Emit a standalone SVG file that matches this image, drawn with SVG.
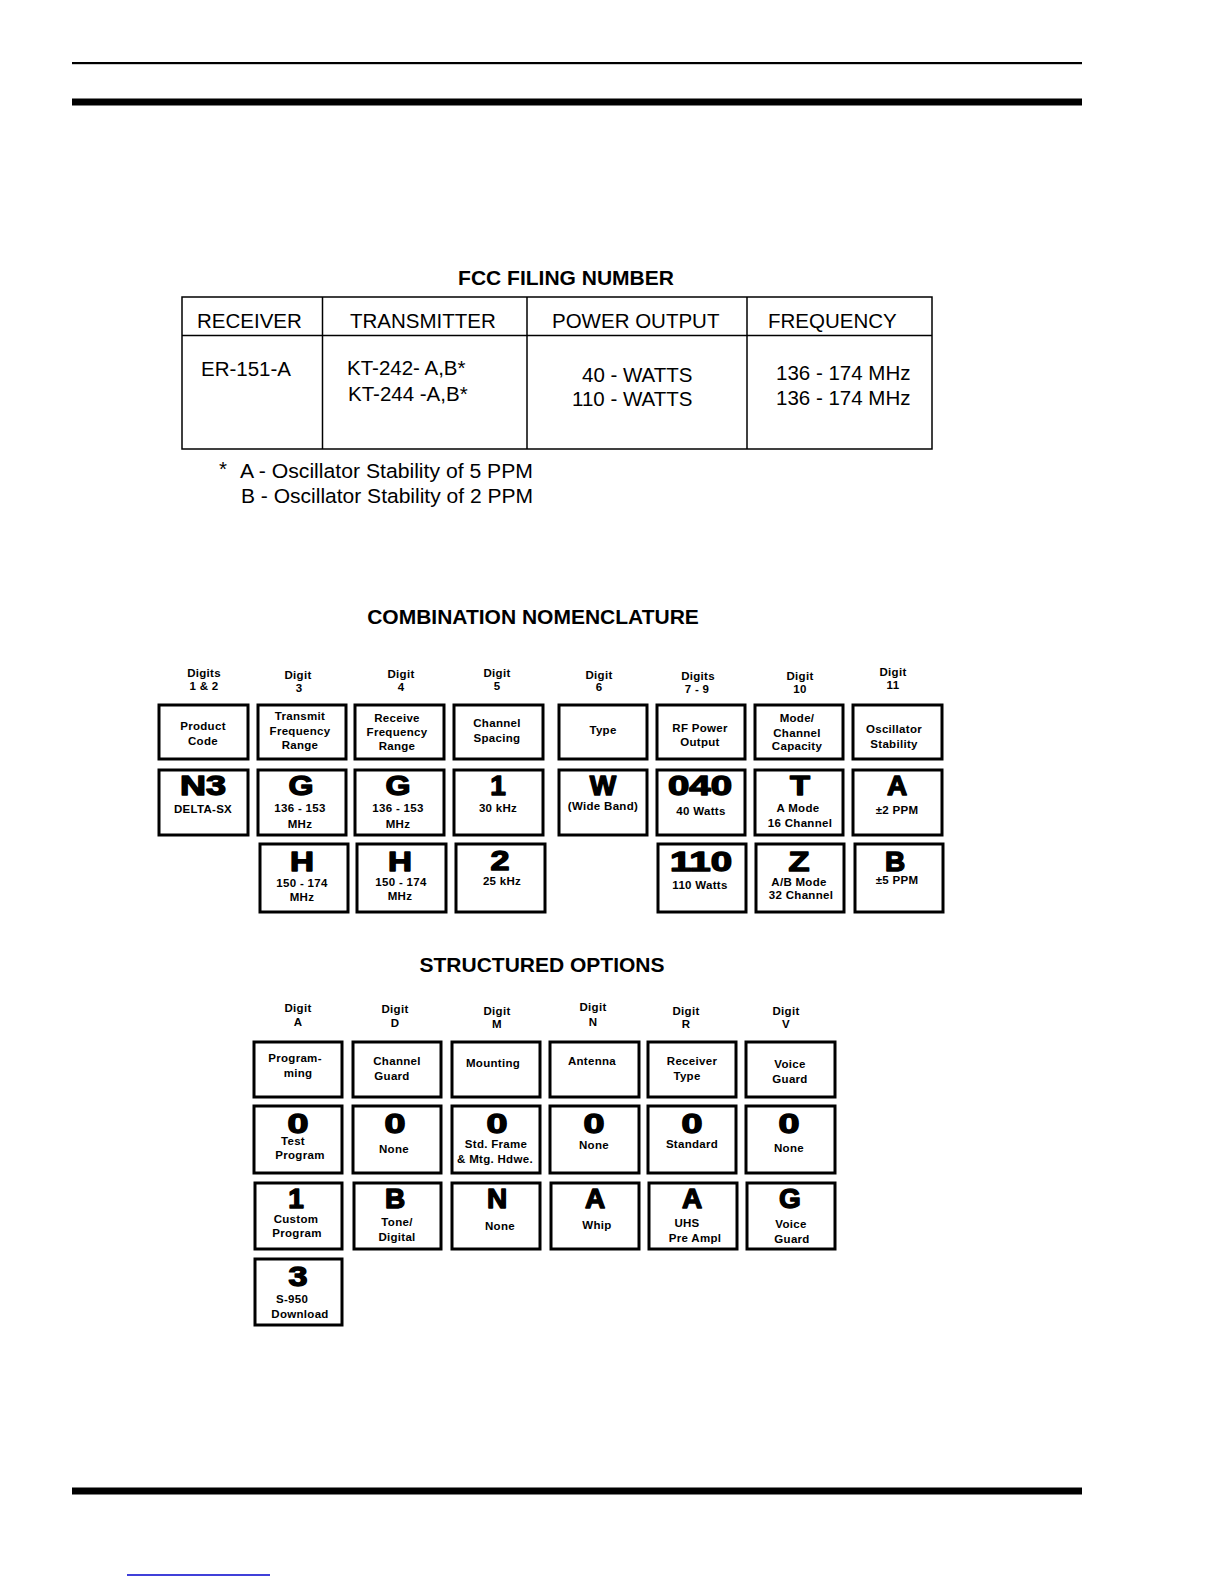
<svg xmlns="http://www.w3.org/2000/svg" width="1225" height="1585" viewBox="0 0 1225 1585">
<style>
.r{font-family:"Liberation Sans",Arial,sans-serif;font-size:20.5px;fill:#000}
.h{font-family:"Liberation Sans",Arial,sans-serif;font-size:21px;font-weight:bold;fill:#000;text-anchor:middle}
.l{font-family:"Liberation Sans",Arial,sans-serif;font-size:11.5px;font-weight:bold;letter-spacing:0.3px;text-anchor:middle;fill:#000}
.b{font-family:"Liberation Sans",Arial,sans-serif;font-size:28px;font-weight:bold;text-anchor:middle;fill:#000;stroke:#000;stroke-width:1.4;stroke-linejoin:round}
.bx{fill:#fff;stroke:#000;stroke-width:3}
.tl{fill:none;stroke:#000;stroke-width:1.5}
</style>
<rect width="1225" height="1585" fill="#fff"/>
<g id="rules">
<rect x="72" y="62" width="1010" height="2.2" fill="#000"/>
<rect x="72" y="98.5" width="1010" height="7" fill="#000"/>
<rect x="72" y="1487.5" width="1010" height="7" fill="#000"/>
<line x1="127" y1="1575" x2="270" y2="1575" stroke="#0000cc" stroke-width="1.5"/>
</g>
<g id="connectors"/>
<g id="fcc-table">
<text class="h" x="566" y="285">FCC FILING NUMBER</text>
<rect class="tl" x="182" y="297" width="750" height="152"/>
<line class="tl" x1="182" y1="335.5" x2="932" y2="335.5"/>
<line class="tl" x1="322.5" y1="297" x2="322.5" y2="449"/>
<line class="tl" x1="527" y1="297" x2="527" y2="449"/>
<line class="tl" x1="747" y1="297" x2="747" y2="449"/>
<text class="r" x="197" y="328">RECEIVER</text>
<text class="r" x="350" y="328">TRANSMITTER</text>
<text class="r" x="552" y="328">POWER OUTPUT</text>
<text class="r" x="768" y="328">FREQUENCY</text>
<text class="r" x="201" y="376">ER-151-A</text>
<text class="r" x="347" y="375">KT-242- A,B*</text>
<text class="r" x="348" y="401">KT-244 -A,B*</text>
<text class="r" x="582" y="382">40 - WATTS</text>
<text class="r" x="572" y="406">110 - WATTS</text>
<text class="r" x="776" y="380">136 - 174 MHz</text>
<text class="r" x="776" y="405">136 - 174 MHz</text>
<text class="r" x="219" y="476">*</text>
<text class="r" x="240" y="478" textLength="293" lengthAdjust="spacingAndGlyphs">A - Oscillator Stability of 5 PPM</text>
<text class="r" x="241" y="503" textLength="292" lengthAdjust="spacingAndGlyphs">B - Oscillator Stability of 2 PPM</text>
</g>
<g id="combination-title"><text class="h" x="533" y="624">COMBINATION NOMENCLATURE</text></g>
<g id="c1">
<text class="l" x="204" y="677">Digits</text><text class="l" x="204" y="690">1 &amp; 2</text>
<rect class="bx" x="159" y="705" width="89" height="54"/>
<text class="l" x="203" y="730">Product</text><text class="l" x="203" y="745">Code</text>
<rect class="bx" x="159" y="770" width="89" height="65"/>
<text class="b" x="203" y="795" textLength="46" lengthAdjust="spacingAndGlyphs">N3</text>
<text class="l" x="203" y="813">DELTA-SX</text>
</g>
<g id="c2">
<text class="l" x="298" y="679">Digit</text><text class="l" x="299" y="692">3</text>
<rect class="bx" x="258" y="705" width="88" height="54"/>
<text class="l" x="300" y="720">Transmit</text><text class="l" x="300" y="735">Frequency</text><text class="l" x="300" y="749">Range</text>
<rect class="bx" x="258" y="770" width="88" height="65"/>
<text class="b" x="301" y="795" textLength="25" lengthAdjust="spacingAndGlyphs">G</text>
<text class="l" x="300" y="812">136 - 153</text><text class="l" x="300" y="828">MHz</text>
<rect class="bx" x="260" y="844" width="88" height="68"/>
<text class="b" x="302" y="871" textLength="24" lengthAdjust="spacingAndGlyphs">H</text>
<text class="l" x="302" y="887">150 - 174</text><text class="l" x="302" y="901">MHz</text>
</g>
<g id="c3">
<text class="l" x="401" y="678">Digit</text><text class="l" x="401" y="691">4</text>
<rect class="bx" x="355" y="705" width="89" height="54"/>
<text class="l" x="397" y="722">Receive</text><text class="l" x="397" y="736">Frequency</text><text class="l" x="397" y="750">Range</text>
<rect class="bx" x="355" y="770" width="89" height="65"/>
<text class="b" x="398" y="795" textLength="25" lengthAdjust="spacingAndGlyphs">G</text>
<text class="l" x="398" y="812">136 - 153</text><text class="l" x="398" y="828">MHz</text>
<rect class="bx" x="357" y="844" width="89" height="68"/>
<text class="b" x="400" y="871" textLength="24" lengthAdjust="spacingAndGlyphs">H</text>
<text class="l" x="401" y="886">150 - 174</text><text class="l" x="400" y="900">MHz</text>
</g>
<g id="c4">
<text class="l" x="497" y="677">Digit</text><text class="l" x="497" y="690">5</text>
<rect class="bx" x="454" y="705" width="89" height="54"/>
<text class="l" x="497" y="727">Channel</text><text class="l" x="497" y="742">Spacing</text>
<rect class="bx" x="454" y="770" width="89" height="65"/>
<text class="b" x="498" y="795">1</text>
<text class="l" x="498" y="812">30 kHz</text>
<rect class="bx" x="456" y="844" width="89" height="68"/>
<text class="b" x="500" y="870" textLength="19" lengthAdjust="spacingAndGlyphs">2</text>
<text class="l" x="502" y="885">25 kHz</text>
</g>
<g id="c5">
<text class="l" x="599" y="679">Digit</text><text class="l" x="599" y="691">6</text>
<rect class="bx" x="559" y="705" width="88" height="54"/>
<text class="l" x="603" y="734">Type</text>
<rect class="bx" x="559" y="770" width="88" height="65"/>
<text class="b" x="603" y="795">W</text>
<text class="l" x="603" y="810">(Wide Band)</text>
</g>
<g id="c6">
<text class="l" x="698" y="680">Digits</text><text class="l" x="697" y="693">7 - 9</text>
<rect class="bx" x="657" y="705" width="88" height="54"/>
<text class="l" x="700" y="732">RF Power</text><text class="l" x="700" y="746">Output</text>
<rect class="bx" x="657" y="770" width="88" height="65"/>
<text class="b" x="700" y="795" textLength="64" lengthAdjust="spacingAndGlyphs">040</text>
<text class="l" x="701" y="815">40 Watts</text>
<rect class="bx" x="658" y="844" width="88" height="68"/>
<text class="b" x="701" y="871" textLength="62" lengthAdjust="spacingAndGlyphs">110</text>
<text class="l" x="700" y="889">110 Watts</text>
</g>
<g id="c7">
<text class="l" x="800" y="680">Digit</text><text class="l" x="800" y="693">10</text>
<rect class="bx" x="755" y="705" width="88" height="54"/>
<text class="l" x="797" y="722">Mode/</text><text class="l" x="797" y="737">Channel</text><text class="l" x="797" y="750">Capacity</text>
<rect class="bx" x="755" y="770" width="88" height="65"/>
<text class="b" x="800" y="795" textLength="20" lengthAdjust="spacingAndGlyphs">T</text>
<text class="l" x="798" y="812">A Mode</text><text class="l" x="800" y="827">16 Channel</text>
<rect class="bx" x="756" y="844" width="88" height="68"/>
<text class="b" x="799" y="871" textLength="21" lengthAdjust="spacingAndGlyphs">Z</text>
<text class="l" x="799" y="886">A/B Mode</text><text class="l" x="801" y="899">32 Channel</text>
</g>
<g id="c8">
<text class="l" x="893" y="676">Digit</text><text class="l" x="893" y="689">11</text>
<rect class="bx" x="853" y="705" width="89" height="54"/>
<text class="l" x="894" y="733">Oscillator</text><text class="l" x="894" y="748">Stability</text>
<rect class="bx" x="853" y="770" width="89" height="65"/>
<text class="b" x="897" y="795">A</text>
<text class="l" x="897" y="814">±2 PPM</text>
<rect class="bx" x="855" y="844" width="88" height="68"/>
<text class="b" x="895" y="871">B</text>
<text class="l" x="897" y="884">±5 PPM</text>
</g>
<g id="structured-title"><text class="h" x="542" y="972">STRUCTURED OPTIONS</text></g>
<g id="sA">
<text class="l" x="298" y="1012">Digit</text><text class="l" x="298" y="1026">A</text>
<rect class="bx" x="254" y="1042" width="88" height="55"/>
<text class="l" x="295" y="1062">Program-</text><text class="l" x="298" y="1077">ming</text>
<rect class="bx" x="254" y="1106" width="88" height="67"/>
<text class="b" x="298" y="1133" textLength="21" lengthAdjust="spacingAndGlyphs">0</text>
<text class="l" x="293" y="1145">Test</text><text class="l" x="300" y="1159">Program</text>
<rect class="bx" x="255" y="1183" width="87" height="66"/>
<text class="b" x="296" y="1208">1</text>
<text class="l" x="296" y="1223">Custom</text><text class="l" x="297" y="1237">Program</text>
<rect class="bx" x="255" y="1259" width="87" height="66"/>
<text class="b" x="298" y="1286" textLength="19" lengthAdjust="spacingAndGlyphs">3</text>
<text class="l" x="292" y="1303">S-950</text><text class="l" x="300" y="1318">Download</text>
</g>
<g id="sD">
<text class="l" x="395" y="1013">Digit</text><text class="l" x="395" y="1027">D</text>
<rect class="bx" x="353" y="1042" width="88" height="55"/>
<text class="l" x="397" y="1065">Channel</text><text class="l" x="392" y="1080">Guard</text>
<rect class="bx" x="353" y="1106" width="88" height="67"/>
<text class="b" x="395" y="1133" textLength="21" lengthAdjust="spacingAndGlyphs">0</text>
<text class="l" x="394" y="1153">None</text>
<rect class="bx" x="354" y="1183" width="87" height="66"/>
<text class="b" x="395" y="1208">B</text>
<text class="l" x="397" y="1226">Tone/</text><text class="l" x="397" y="1241">Digital</text>
</g>
<g id="sM">
<text class="l" x="497" y="1015">Digit</text><text class="l" x="497" y="1028">M</text>
<rect class="bx" x="452" y="1042" width="88" height="55"/>
<text class="l" x="493" y="1067">Mounting</text>
<rect class="bx" x="452" y="1106" width="88" height="67"/>
<text class="b" x="497" y="1133" textLength="21" lengthAdjust="spacingAndGlyphs">0</text>
<text class="l" x="496" y="1148">Std. Frame</text><text class="l" x="495" y="1163">&amp; Mtg. Hdwe.</text>
<rect class="bx" x="452" y="1183" width="88" height="66"/>
<text class="b" x="497" y="1208">N</text>
<text class="l" x="500" y="1230">None</text>
</g>
<g id="sN">
<text class="l" x="593" y="1011">Digit</text><text class="l" x="593" y="1026">N</text>
<rect class="bx" x="550" y="1042" width="89" height="55"/>
<text class="l" x="592" y="1065">Antenna</text>
<rect class="bx" x="550" y="1106" width="89" height="67"/>
<text class="b" x="594" y="1133" textLength="21" lengthAdjust="spacingAndGlyphs">0</text>
<text class="l" x="594" y="1149">None</text>
<rect class="bx" x="551" y="1183" width="88" height="66"/>
<text class="b" x="595" y="1208">A</text>
<text class="l" x="597" y="1229">Whip</text>
</g>
<g id="sR">
<text class="l" x="686" y="1015">Digit</text><text class="l" x="686" y="1028">R</text>
<rect class="bx" x="648" y="1042" width="88" height="55"/>
<text class="l" x="692" y="1065">Receiver</text><text class="l" x="687" y="1080">Type</text>
<rect class="bx" x="648" y="1106" width="88" height="67"/>
<text class="b" x="692" y="1133" textLength="21" lengthAdjust="spacingAndGlyphs">0</text>
<text class="l" x="692" y="1148">Standard</text>
<rect class="bx" x="649" y="1183" width="88" height="66"/>
<text class="b" x="692" y="1208">A</text>
<text class="l" x="687" y="1227">UHS</text><text class="l" x="695" y="1242">Pre Ampl</text>
</g>
<g id="sV">
<text class="l" x="786" y="1015">Digit</text><text class="l" x="786" y="1028">V</text>
<rect class="bx" x="746" y="1042" width="89" height="55"/>
<text class="l" x="790" y="1068">Voice</text><text class="l" x="790" y="1083">Guard</text>
<rect class="bx" x="746" y="1106" width="89" height="67"/>
<text class="b" x="789" y="1133" textLength="21" lengthAdjust="spacingAndGlyphs">0</text>
<text class="l" x="789" y="1152">None</text>
<rect class="bx" x="747" y="1183" width="88" height="66"/>
<text class="b" x="790" y="1208">G</text>
<text class="l" x="791" y="1228">Voice</text><text class="l" x="792" y="1243">Guard</text>
</g>
</svg>
